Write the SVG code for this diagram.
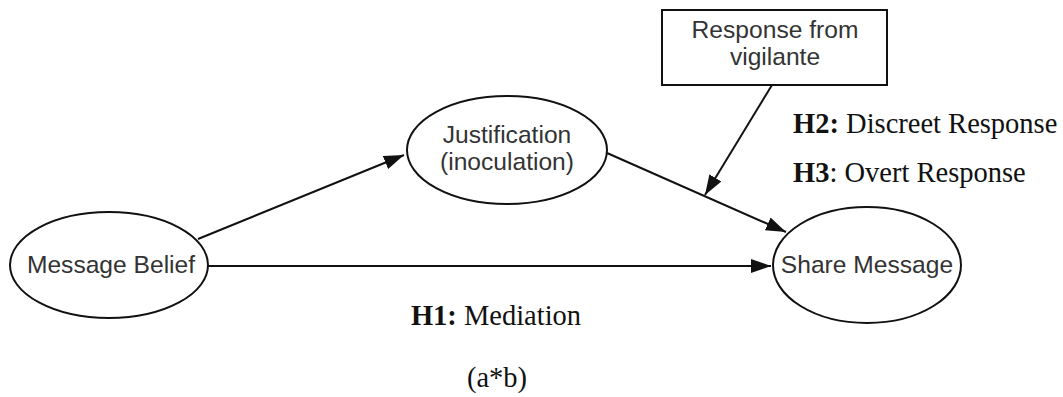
<svg xmlns="http://www.w3.org/2000/svg" width="1063" height="397" viewBox="0 0 1063 397">
<style>
.node{fill:#fff;stroke:#111;stroke-width:2}
.lbl{font-family:"Liberation Sans",Arial,sans-serif;font-size:24.6px;fill:#333;text-anchor:middle}
.hyp{font-family:"Liberation Serif","Times New Roman",serif;font-size:28.5px;fill:#111}
.edge{stroke:#111;stroke-width:2;fill:none;marker-end:url(#arr)}
</style>
<defs>
<marker id="arr" markerUnits="userSpaceOnUse" markerWidth="20" markerHeight="14" refX="20" refY="7" orient="auto">
<path d="M0,0 L20,7 L0,14 z" fill="#111"/>
</marker>
</defs>
<rect width="1063" height="397" fill="#fff"/>
<g id="connectors">
<line class="edge" x1="198" y1="239" x2="404" y2="155"/>
<line class="edge" x1="208" y1="266" x2="771" y2="266"/>
<line class="edge" x1="607" y1="153" x2="786" y2="232"/>
<line class="edge" x1="772" y1="85" x2="705" y2="195"/>
</g>
<g id="message-belief">
<ellipse class="node" cx="109" cy="265" rx="99" ry="53"/>
<text class="lbl" x="111" y="273">Message Belief</text>
</g>
<g id="justification">
<ellipse class="node" cx="507" cy="150" rx="100" ry="54"/>
<text class="lbl" x="507" y="143">Justification</text>
<text class="lbl" x="507" y="170">(inoculation)</text>
</g>
<g id="share-message">
<ellipse class="node" cx="867" cy="265" rx="94" ry="58"/>
<text class="lbl" x="867" y="273">Share Message</text>
</g>
<g id="response">
<rect class="node" x="662" y="10" width="225" height="75"/>
<text class="lbl" x="775" y="38">Response from</text>
<text class="lbl" x="775" y="65">vigilante</text>
</g>
<g id="hypotheses">
<text class="hyp" x="793" y="133"><tspan font-weight="bold">H2:</tspan> Discreet Response</text>
<text class="hyp" x="793" y="182"><tspan font-weight="bold">H3</tspan>: Overt Response</text>
<text class="hyp" x="496" y="325" text-anchor="middle"><tspan font-weight="bold">H1:</tspan> Mediation</text>
<text class="hyp" x="497" y="387" text-anchor="middle">(a*b)</text>
</g>
</svg>
